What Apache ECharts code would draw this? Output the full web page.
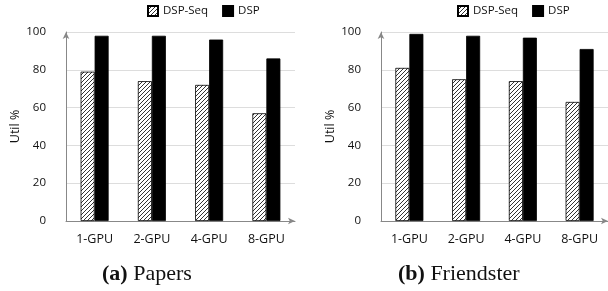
<!DOCTYPE html>
<html>
<head>
<meta charset="utf-8">
<script src="https://cdn.jsdelivr.net/npm/echarts@6/dist/echarts.min.js"></script>
<style>
  html, body { margin: 0; padding: 0; background: #fff; }
  #main { width: 608px; height: 291px; }
</style>
</head>
<body>
<div id="main"></div>
<script>
// data
const categories = ['1-GPU', '2-GPU', '4-GPU', '8-GPU'];
const papersSeq = [79, 74, 72, 57];
const papersDsp = [98, 98, 96, 86];
const friendsterSeq = [81, 75, 74, 63];
const friendsterDsp = [99, 98, 97, 91];
const yTicks = { min: 0, max: 100, interval: 20 };

// diagonal hatch fill
function hatch() {
    const c = document.createElement('canvas');
    c.width = 4; c.height = 4;
    const ctx = c.getContext('2d');
    ctx.fillStyle = '#fff';
    ctx.fillRect(0, 0, 4, 4);
    ctx.strokeStyle = '#333';
    ctx.lineWidth = 1;
    ctx.beginPath();
    ctx.moveTo(0, 4); ctx.lineTo(4, 0);
    ctx.moveTo(-1, 1); ctx.lineTo(1, -1);
    ctx.moveTo(3, 5); ctx.lineTo(5, 3);
    ctx.stroke();
    return c;
}
const hatchFill = { image: hatch(), repeat: 'repeat' };

const font = "'Open Sans', sans-serif";
const serif = "'Liberation Serif', serif";
const chart = echarts.init(document.getElementById('main'));

function xAxis(gi) {
    return {
        type: 'category', gridIndex: gi, data: categories,
        axisLine: { lineStyle: { color: '#888' }, symbol: ['none', 'arrow'], symbolSize: [5, 7] },
        axisTick: { show: false },
        axisLabel: { color: '#111', fontFamily: font, fontSize: 12.5, margin: 12 }
    };
}
function yAxis(gi) {
    return {
        type: 'value', gridIndex: gi, min: yTicks.min, max: yTicks.max, interval: yTicks.interval,
        name: 'Util %', nameLocation: 'middle', nameGap: 44,
        nameTextStyle: { color: '#111', fontFamily: font, fontSize: 12.5 },
        axisLine: { show: true, lineStyle: { color: '#888' }, symbol: ['none', 'arrow'], symbolSize: [5, 7] },
        axisTick: { show: false },
        axisLabel: { color: '#111', fontFamily: font, fontSize: 11.5, margin: 20 },
        splitLine: { lineStyle: { color: '#ddd' } }
    };
}
function bars(name, data, gi, fill) {
    return {
        type: 'bar', name: name, xAxisIndex: gi, yAxisIndex: gi, data: data,
        barWidth: 14, barGap: '0%',
        itemStyle: { color: fill, borderColor: '#000', borderWidth: 0.8 }
    };
}
function legend(left) {
    return {
        left: left, top: 0, itemWidth: 10, itemHeight: 10, itemGap: 14,
        textStyle: { color: '#111', fontFamily: font, fontSize: 11.5 },
        data: [{ name: 'DSP-Seq', icon: 'rect' }, { name: 'DSP', icon: 'rect' }]
    };
}
function caption(label, name, left) {
    return {
        text: '{b|' + label + '} ' + name, left: left, top: 258,
        textStyle: {
            fontFamily: serif, fontSize: 22, fontWeight: 'normal', color: '#111',
            rich: { b: { fontWeight: 'bold', fontSize: 22, fontFamily: serif } }
        }
    };
}

chart.setOption({
    animation: false,
    title: [caption('(a)', 'Papers', 97), caption('(b)', 'Friendster', 393)],
    legend: [legend(142), legend(452)],
    grid: [
        { left: 66, top: 32, width: 229, height: 189 },
        { left: 381, top: 32, width: 229, height: 189 }
    ],
    xAxis: [xAxis(0), xAxis(1)],
    yAxis: [yAxis(0), yAxis(1)],
    series: [
        bars('DSP-Seq', papersSeq, 0, hatchFill),
        bars('DSP', papersDsp, 0, '#000'),
        bars('DSP-Seq', friendsterSeq, 1, hatchFill),
        bars('DSP', friendsterDsp, 1, '#000')
    ]
});
</script>
</body>
</html>
